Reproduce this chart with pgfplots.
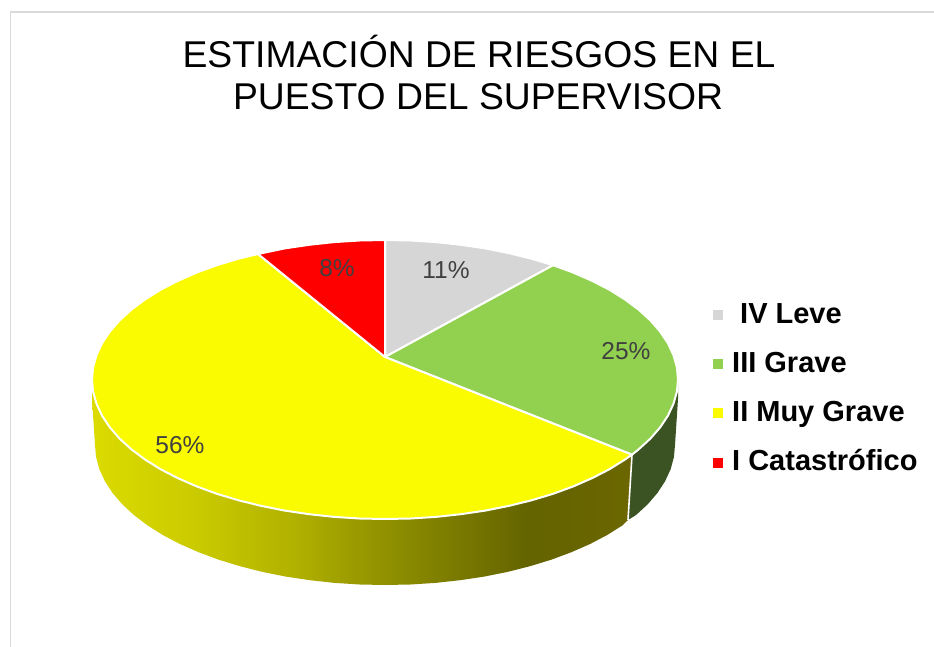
\documentclass[border=0pt]{standalone}
\usepackage{fontspec}
\setmainfont{Liberation Sans}
\usepackage{pgfplots}
\pgfplotsset{compat=1.18}

\definecolor{cleve}{HTML}{D6D6D6}
\definecolor{cgrave}{HTML}{92D050}
\definecolor{cmuy}{HTML}{FAFA00}
\definecolor{ccat}{HTML}{FF0000}
\definecolor{cgreenside}{HTML}{3B5323}
\definecolor{cframe}{HTML}{D9D9D9}
\definecolor{clabel}{HTML}{404040}

% side of the yellow slice, left to right (bbox sits between 25bp and 75bp)
\pgfdeclarehorizontalshading{yside}{100bp}{
  rgb(0bp)=(0.86,0.86,0);
  rgb(25bp)=(0.86,0.86,0);
  rgb(35bp)=(0.79,0.79,0);
  rgb(44bp)=(0.69,0.69,0);
  rgb(49bp)=(0.61,0.61,0);
  rgb(57bp)=(0.50,0.50,0);
  rgb(65.5bp)=(0.39,0.39,0);
  rgb(75bp)=(0.42,0.40,0);
  rgb(100bp)=(0.42,0.40,0)}

\begin{document}
\begin{tikzpicture}
\begin{axis}[
  scale only axis, width=934pt, height=647pt,
  xmin=0, xmax=934, ymin=0, ymax=647, y dir=reverse,
  hide axis, clip=true,
  legend cell align=left,
  legend style={draw=none, fill=none, at={(axis cs:713,296)}, anchor=north west,
    font=\fontsize{29}{34}\selectfont\bfseries, row sep=18pt, inner sep=0pt,
    nodes={inner sep=3pt}},
  legend image code/.code={\fill[draw=none, #1] (0pt,-8pt) rectangle (10pt,2pt);},
]
% page
\addplot[fill=white, draw=none, forget plot] coordinates {(0,0) (934,0) (934,647) (0,647) (0,0)};
\addplot[cframe, line width=1.7pt, forget plot] coordinates {(934,12) (10.5,12) (10.5,647)};

% sides
\addplot[shading=yside, draw=none, forget plot] coordinates {
  (628,520) (622.6,525.3) (607.2,535) (590.1,544) (571.4,552.2) (551.3,559.7) (530,566.2)
  (507.6,571.9) (484.2,576.6) (460.1,580.2) (435.4,582.9) (410.3,584.5) (385,585)
  (359.7,584.5) (334.6,582.9) (309.9,580.2) (285.8,576.6) (262.4,571.9) (240,566.2)
  (218.7,559.7) (198.6,552.2) (179.9,544) (162.8,535) (147.4,525.3) (133.9,515)
  (122.2,504.2) (112.5,492.9) (104.9,481.2) (99.4,469.3) (96.1,457.2) (95,445)
  (92,399) (92,380) (385,380) (632,455) (628,520)};
\addplot[fill=cgreenside, draw=none, forget plot] coordinates {
  (632,455) (628,520) (636.1,515) (647.8,504.2) (657.5,492.9) (665.1,481.2) (670.6,469.3)
  (673.9,457.2) (675,445) (678,399) (678,380) (632,400) (632,455)};
\addplot[white, line width=1.6pt, forget plot] coordinates {(632,455) (628,520)};

% top: IV Leve 11
\addplot[fill=cleve, draw=white, line width=2pt, line join=round, forget plot] coordinates {
  (385,357) (385,240) (410.5,240.5) (435.9,242.1) (460.8,244.8) (485.2,248.4) (508.8,253.1)
  (531.5,258.7) (553.1,265.2) (385,357)};
% III Grave 25
\addplot[fill=cgrave, draw=white, line width=2pt, line join=round, forget plot] coordinates {
  (385,357) (553.1,265.2) (573.3,272.6) (592.2,280.9) (609.5,289.8) (625,299.5) (638.7,309.7)
  (650.5,320.5) (660.3,331.8) (668,343.4) (673.5,355.3) (676.9,367.3) (678,379.5)
  (676.9,391.7) (673.5,403.7) (668,415.6) (660.3,427.2) (650.5,438.5) (638.7,449.3)
  (632,454.7) (385,357)};
% II Muy Grave 56
\addplot[fill=cmuy, draw=white, line width=2pt, line join=round, forget plot] coordinates {
  (385,357) (632,454.7) (625,459.5) (609.5,469.2) (592.2,478.1) (573.3,486.4) (553.1,493.8)
  (531.5,500.3) (508.8,505.9) (485.2,510.6) (460.8,514.2) (435.9,516.9) (410.5,518.5)
  (385,519) (359.5,518.5) (334.1,516.9) (309.2,514.2) (284.8,510.6) (261.2,505.9)
  (238.5,500.3) (216.9,493.8) (196.7,486.4) (177.8,478.1) (160.5,469.2) (145,459.5)
  (131.3,449.3) (119.5,438.5) (109.7,427.2) (102,415.6) (96.5,403.7) (93.1,391.7)
  (92,379.5) (93.1,367.3) (96.5,355.3) (102,343.4) (109.7,331.8) (119.5,320.5) (131.3,309.7)
  (145,299.5) (160.5,289.8) (177.8,280.9) (196.7,272.6) (216.9,265.2) (238.5,258.7)
  (258,254) (385,357)};
% I Catastrofico 8
\addplot[fill=ccat, draw=white, line width=2pt, line join=round, forget plot] coordinates {
  (385,357) (258,254) (284.8,248.4) (309.2,244.8) (334.1,242.1) (359.5,240.5) (385,240) (385,357)};

% slice labels
\node[text=clabel, font=\fontsize{24.5}{28}\selectfont] at (axis cs:446,270) {11\%};
\node[text=clabel, font=\fontsize{24.5}{28}\selectfont] at (axis cs:626,351) {25\%};
\node[text=clabel, font=\fontsize{24.5}{28}\selectfont] at (axis cs:180,445) {56\%};
\node[text=clabel, font=\fontsize{24.5}{28}\selectfont] at (axis cs:337,268) {8\%};

% title
\node[anchor=base, font=\fontsize{37.3}{41}\selectfont] at (axis cs:479,68) {ESTIMACIÓN DE RIESGOS EN EL};
\node[anchor=base, font=\fontsize{37.3}{41}\selectfont] at (axis cs:478,110) {PUESTO DEL SUPERVISOR};

% legend
\addlegendimage{fill=cleve}
\addlegendentry{\strut\hspace{14pt}IV Leve}
\addlegendimage{fill=cgrave}
\addlegendentry{\strut\hspace{6pt}III Grave}
\addlegendimage{fill=cmuy}
\addlegendentry{\strut\hspace{6pt}II Muy Grave}
\addlegendimage{fill=ccat}
\addlegendentry{\strut\hspace{6pt}I Catastrófico}
\end{axis}
\end{tikzpicture}
\end{document}
